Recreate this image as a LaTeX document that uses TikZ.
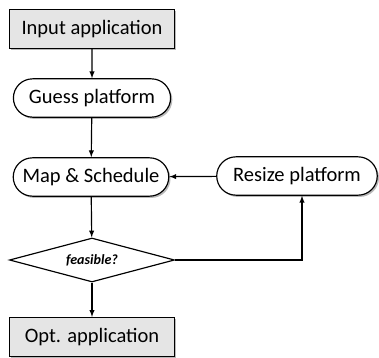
\documentclass[tikz,border=0pt]{standalone}
\usepackage{fontspec}
\setmainfont{Carlito}
\usepackage{tikz}
\usetikzlibrary{arrows,
  positioning,
  shapes.misc,
  shapes.geometric,
  shadows}

\begin{document}
\begin{tikzpicture}[x=0.03cm,y=-0.03cm,>=latex,line width=1pt,
    every node/.style={font=\fontsize{17.5}{19}\selectfont},
    databox/.style={draw,line width=1pt,fill=black!10,
      minimum width=4.95cm,minimum height=1.17cm,
      drop shadow={shadow xshift=1.5pt,shadow yshift=-1.5pt,opacity=0.55}},
    procbox/.style={draw,line width=1pt,fill=white,rounded rectangle,
      minimum height=1.15cm,
      drop shadow={shadow xshift=1.5pt,shadow yshift=-1.5pt,opacity=0.55}},
    testbox/.style={draw,line width=1pt,fill=white,diamond,aspect=3.75,
      inner sep=0pt,minimum width=4.95cm,minimum height=1.32cm,
      font=\fontsize{12}{14}\selectfont\bfseries\itshape}]

      % Frame
      \useasboundingbox (0,0) rectangle (379,358);

      % Steps of the flow:
      \node [databox] (input) at (92,29) {Input application};
      \node [procbox,minimum width=4.95cm] (guess) at (92,98) {Guess platform};
      \node [procbox,minimum width=4.9cm] (map) at (91,177) {Map \& Schedule};
      \node [procbox,minimum width=5.05cm] (resize) at (297,176) {Resize platform};
      \node [testbox] (feasible) at (92,260) {feasible?};
      \node [databox] (output) at (92,337) {Opt. application};

      % Arrows:
      \draw [->] (input) -- (guess);
      \draw [->] (guess) -- (map);
      \draw [->] (map) -- (feasible);
      \draw [->] (feasible) -- (output);
      \draw [->] (feasible.east) -| (resize.south -| 302,0);
      \draw [->] (resize) -- (map);
    \end{tikzpicture}
\end{document}
